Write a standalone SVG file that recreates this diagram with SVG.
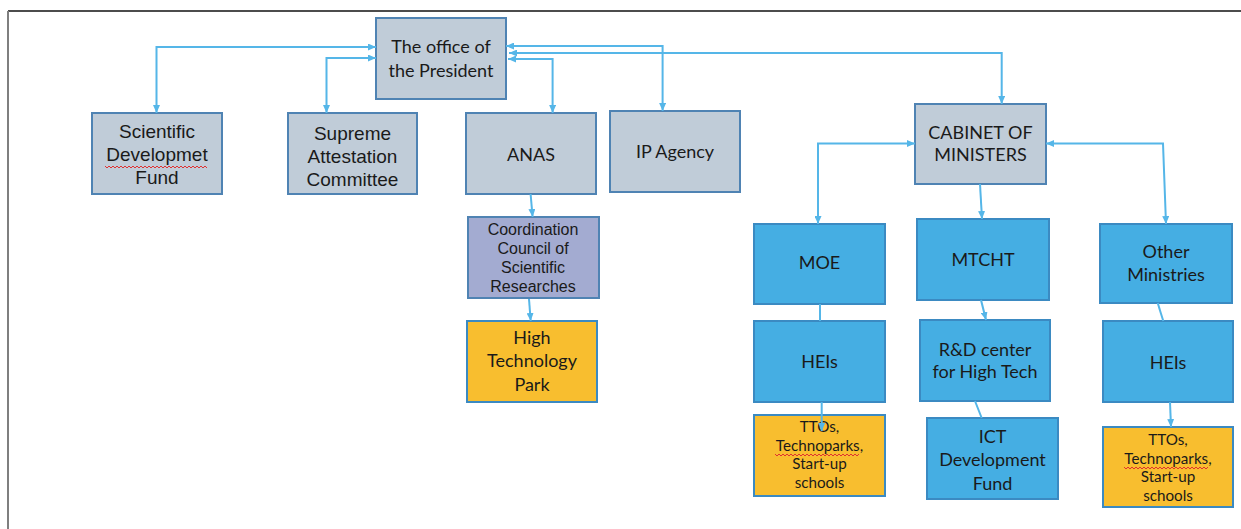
<svg xmlns="http://www.w3.org/2000/svg" width="1241" height="529" viewBox="0 0 1241 529">
<style>
.grey{fill:#c0ccd8;stroke:#4f83b3;stroke-width:2}
.lav{fill:#a3abd1;stroke:#4f83b3;stroke-width:2}
.blue{fill:#45aee3;stroke:#3b8ac2;stroke-width:2}
.orange{fill:#f8be2f;stroke:#3b8ac2;stroke-width:2}
.a{font-family:"Liberation Sans",Arial,sans-serif;font-size:19px;fill:#1a1a1a;text-anchor:middle}
.c{font-family:Lato,"Open Sans",sans-serif;font-size:18px;fill:#1a1a1a;text-anchor:middle}
.cs{font-family:Lato,"Open Sans",sans-serif;font-size:15.2px;fill:#1a1a1a;text-anchor:middle}
.as{font-family:"Liberation Sans",Arial,sans-serif;font-size:16px;fill:#1a1a1a;text-anchor:middle}
.conn path{fill:none;stroke:#55b6e8;stroke-width:2}
.wave{fill:none;stroke:#e03030;stroke-width:1}
</style>
<defs>
<marker id="arr" viewBox="0 0 8 7" refX="8" refY="3.5" markerWidth="8" markerHeight="7" markerUnits="userSpaceOnUse" orient="auto-start-reverse">
<path d="M0,0 L8,3.5 L0,7 z" fill="#55b6e8"/>
</marker>
</defs>
<rect width="1241" height="529" fill="#ffffff"/>
<g id="frame">
<line x1="8" y1="11" x2="1241" y2="11" stroke="#111" stroke-width="1.5"/>
<line x1="8" y1="11" x2="8" y2="529" stroke="#7f7f7f" stroke-width="2"/>
</g>
<g id="president"><rect class="grey" x="376" y="18" width="130" height="81"/>
<text class="c" x="441" y="53">The office of</text><text class="c" x="441" y="77">the President</text></g>
<g id="sdf"><rect class="grey" x="92" y="113" width="130" height="81"/>
<text class="a" x="157" y="138">Scientific</text><text class="a" x="157" y="161">Developmet</text><text class="a" x="157" y="184">Fund</text>
<path class="wave" d="M105,166 l2,2 l2,-2 l2,2 l2,-2 l2,2 l2,-2 l2,2 l2,-2 l2,2 l2,-2 l2,2 l2,-2 l2,2 l2,-2 l2,2 l2,-2 l2,2 l2,-2 l2,2 l2,-2 l2,2 l2,-2 l2,2 l2,-2 l2,2 l2,-2 l2,2 l2,-2 l2,2 l2,-2 l2,2 l2,-2 l2,2 l2,-2 l2,2 l2,-2 l2,2 l2,-2 l2,2 l2,-2 l2,2 l2,-2 l2,2 l2,-2 l2,2 l2,-2 l2,2 l2,-2 l2,2 l2,-2 l2,2"/></g>
<g id="sac"><rect class="grey" x="288" y="113" width="129" height="81"/>
<text class="a" x="352.5" y="140">Supreme</text><text class="a" x="352.5" y="163">Attestation</text><text class="a" x="352.5" y="186">Committee</text></g>
<g id="anas"><rect class="grey" x="466" y="113" width="130" height="81"/>
<text class="c" x="531" y="161">ANAS</text></g>
<g id="ip"><rect class="grey" x="610" y="111" width="130" height="81"/>
<text class="c" x="675" y="158">IP Agency</text></g>
<g id="ccsr"><rect class="lav" x="468" y="217" width="131" height="81"/>
<text class="as" x="533" y="235">Coordination</text><text class="as" x="533" y="254">Council of</text><text class="as" x="533" y="273">Scientific</text><text class="as" x="533" y="292">Researches</text></g>
<g id="htp"><rect class="orange" x="467" y="321" width="130" height="81"/>
<text class="c" x="532" y="344">High</text><text class="c" x="532" y="367">Technology</text><text class="c" x="532" y="391">Park</text></g>
<g id="cabinet"><rect class="grey" x="915" y="104" width="131" height="80"/>
<text class="c" x="980.5" y="139">CABINET OF</text><text class="c" x="980.5" y="161">MINISTERS</text></g>
<g id="moe"><rect class="blue" x="754" y="224" width="131" height="80"/>
<text class="c" x="819.5" y="269">MOE</text></g>
<g id="heis1"><rect class="blue" x="754" y="321" width="131" height="81"/>
<text class="c" x="819.5" y="368">HEIs</text></g>
<g id="ttos1"><rect class="orange" x="754" y="415" width="131" height="81"/>
<text class="cs" x="819.5" y="432">TTOs,</text><text class="cs" x="819.5" y="450.5">Technoparks,</text><text class="cs" x="819.5" y="469">Start-up</text><text class="cs" x="819.5" y="487.5">schools</text>
<path class="wave" d="M775,454 l2,2 l2,-2 l2,2 l2,-2 l2,2 l2,-2 l2,2 l2,-2 l2,2 l2,-2 l2,2 l2,-2 l2,2 l2,-2 l2,2 l2,-2 l2,2 l2,-2 l2,2 l2,-2 l2,2 l2,-2 l2,2 l2,-2 l2,2 l2,-2 l2,2 l2,-2 l2,2 l2,-2 l2,2 l2,-2 l2,2 l2,-2 l2,2 l2,-2 l2,2 l2,-2 l2,2 l2,-2 l2,2 l2,-2"/></g>
<g id="mtcht"><rect class="blue" x="917" y="219" width="132" height="81"/>
<text class="c" x="983" y="266">MTCHT</text></g>
<g id="rd"><rect class="blue" x="920" y="320" width="130" height="81"/>
<text class="c" x="985" y="356">R&amp;D center</text><text class="c" x="985" y="378">for High Tech</text></g>
<g id="ict"><rect class="blue" x="927" y="418" width="131" height="81"/>
<text class="c" x="992.5" y="443">ICT</text><text class="c" x="992.5" y="466">Development</text><text class="c" x="992.5" y="490">Fund</text></g>
<g id="other"><rect class="blue" x="1100" y="224" width="132" height="79"/>
<text class="c" x="1166" y="258">Other</text><text class="c" x="1166" y="281">Ministries</text></g>
<g id="heis2"><rect class="blue" x="1103" y="321" width="130" height="81"/>
<text class="c" x="1168" y="369">HEIs</text></g>
<g id="ttos2"><rect class="orange" x="1103" y="427" width="130" height="80"/>
<text class="cs" x="1168" y="445">TTOs,</text><text class="cs" x="1168" y="463.5">Technoparks,</text><text class="cs" x="1168" y="482">Start-up</text><text class="cs" x="1168" y="500.5">schools</text>
<path class="wave" d="M1124,467 l2,2 l2,-2 l2,2 l2,-2 l2,2 l2,-2 l2,2 l2,-2 l2,2 l2,-2 l2,2 l2,-2 l2,2 l2,-2 l2,2 l2,-2 l2,2 l2,-2 l2,2 l2,-2 l2,2 l2,-2 l2,2 l2,-2 l2,2 l2,-2 l2,2 l2,-2 l2,2 l2,-2 l2,2 l2,-2 l2,2 l2,-2 l2,2 l2,-2 l2,2 l2,-2 l2,2 l2,-2 l2,2 l2,-2"/></g>
<g id="connectors" class="conn">
<path d="M376,47 H156.5 V113" marker-start="url(#arr)" marker-end="url(#arr)"/>
<path d="M376,58 H326.5 V113" marker-start="url(#arr)" marker-end="url(#arr)"/>
<path d="M508,59 H552.6 V113" marker-start="url(#arr)" marker-end="url(#arr)"/>
<path d="M506,46 H662.6 V111" marker-start="url(#arr)" marker-end="url(#arr)"/>
<path d="M509,53 H1001.7 V104" marker-start="url(#arr)" marker-end="url(#arr)"/>
<path d="M530.6,194 L532.6,217" marker-end="url(#arr)"/>
<path d="M529,299 L530.7,321" marker-end="url(#arr)"/>
<path d="M915,143.5 H818 V224" marker-start="url(#arr)" marker-end="url(#arr)"/>
<path d="M980,184 L982,219" marker-end="url(#arr)"/>
<path d="M1046,143.5 H1163 L1166,224" marker-start="url(#arr)" marker-end="url(#arr)"/>
<path d="M820,304 V321"/>
<path d="M821.7,402 V431" marker-end="url(#arr)"/>
<path d="M981,300 L986,320" marker-end="url(#arr)"/>
<path d="M975,401 L981.7,418"/>
<path d="M1157.7,303 L1163.3,321"/>
<path d="M1170,402 L1171,427" marker-end="url(#arr)"/>
</g>
</svg>
